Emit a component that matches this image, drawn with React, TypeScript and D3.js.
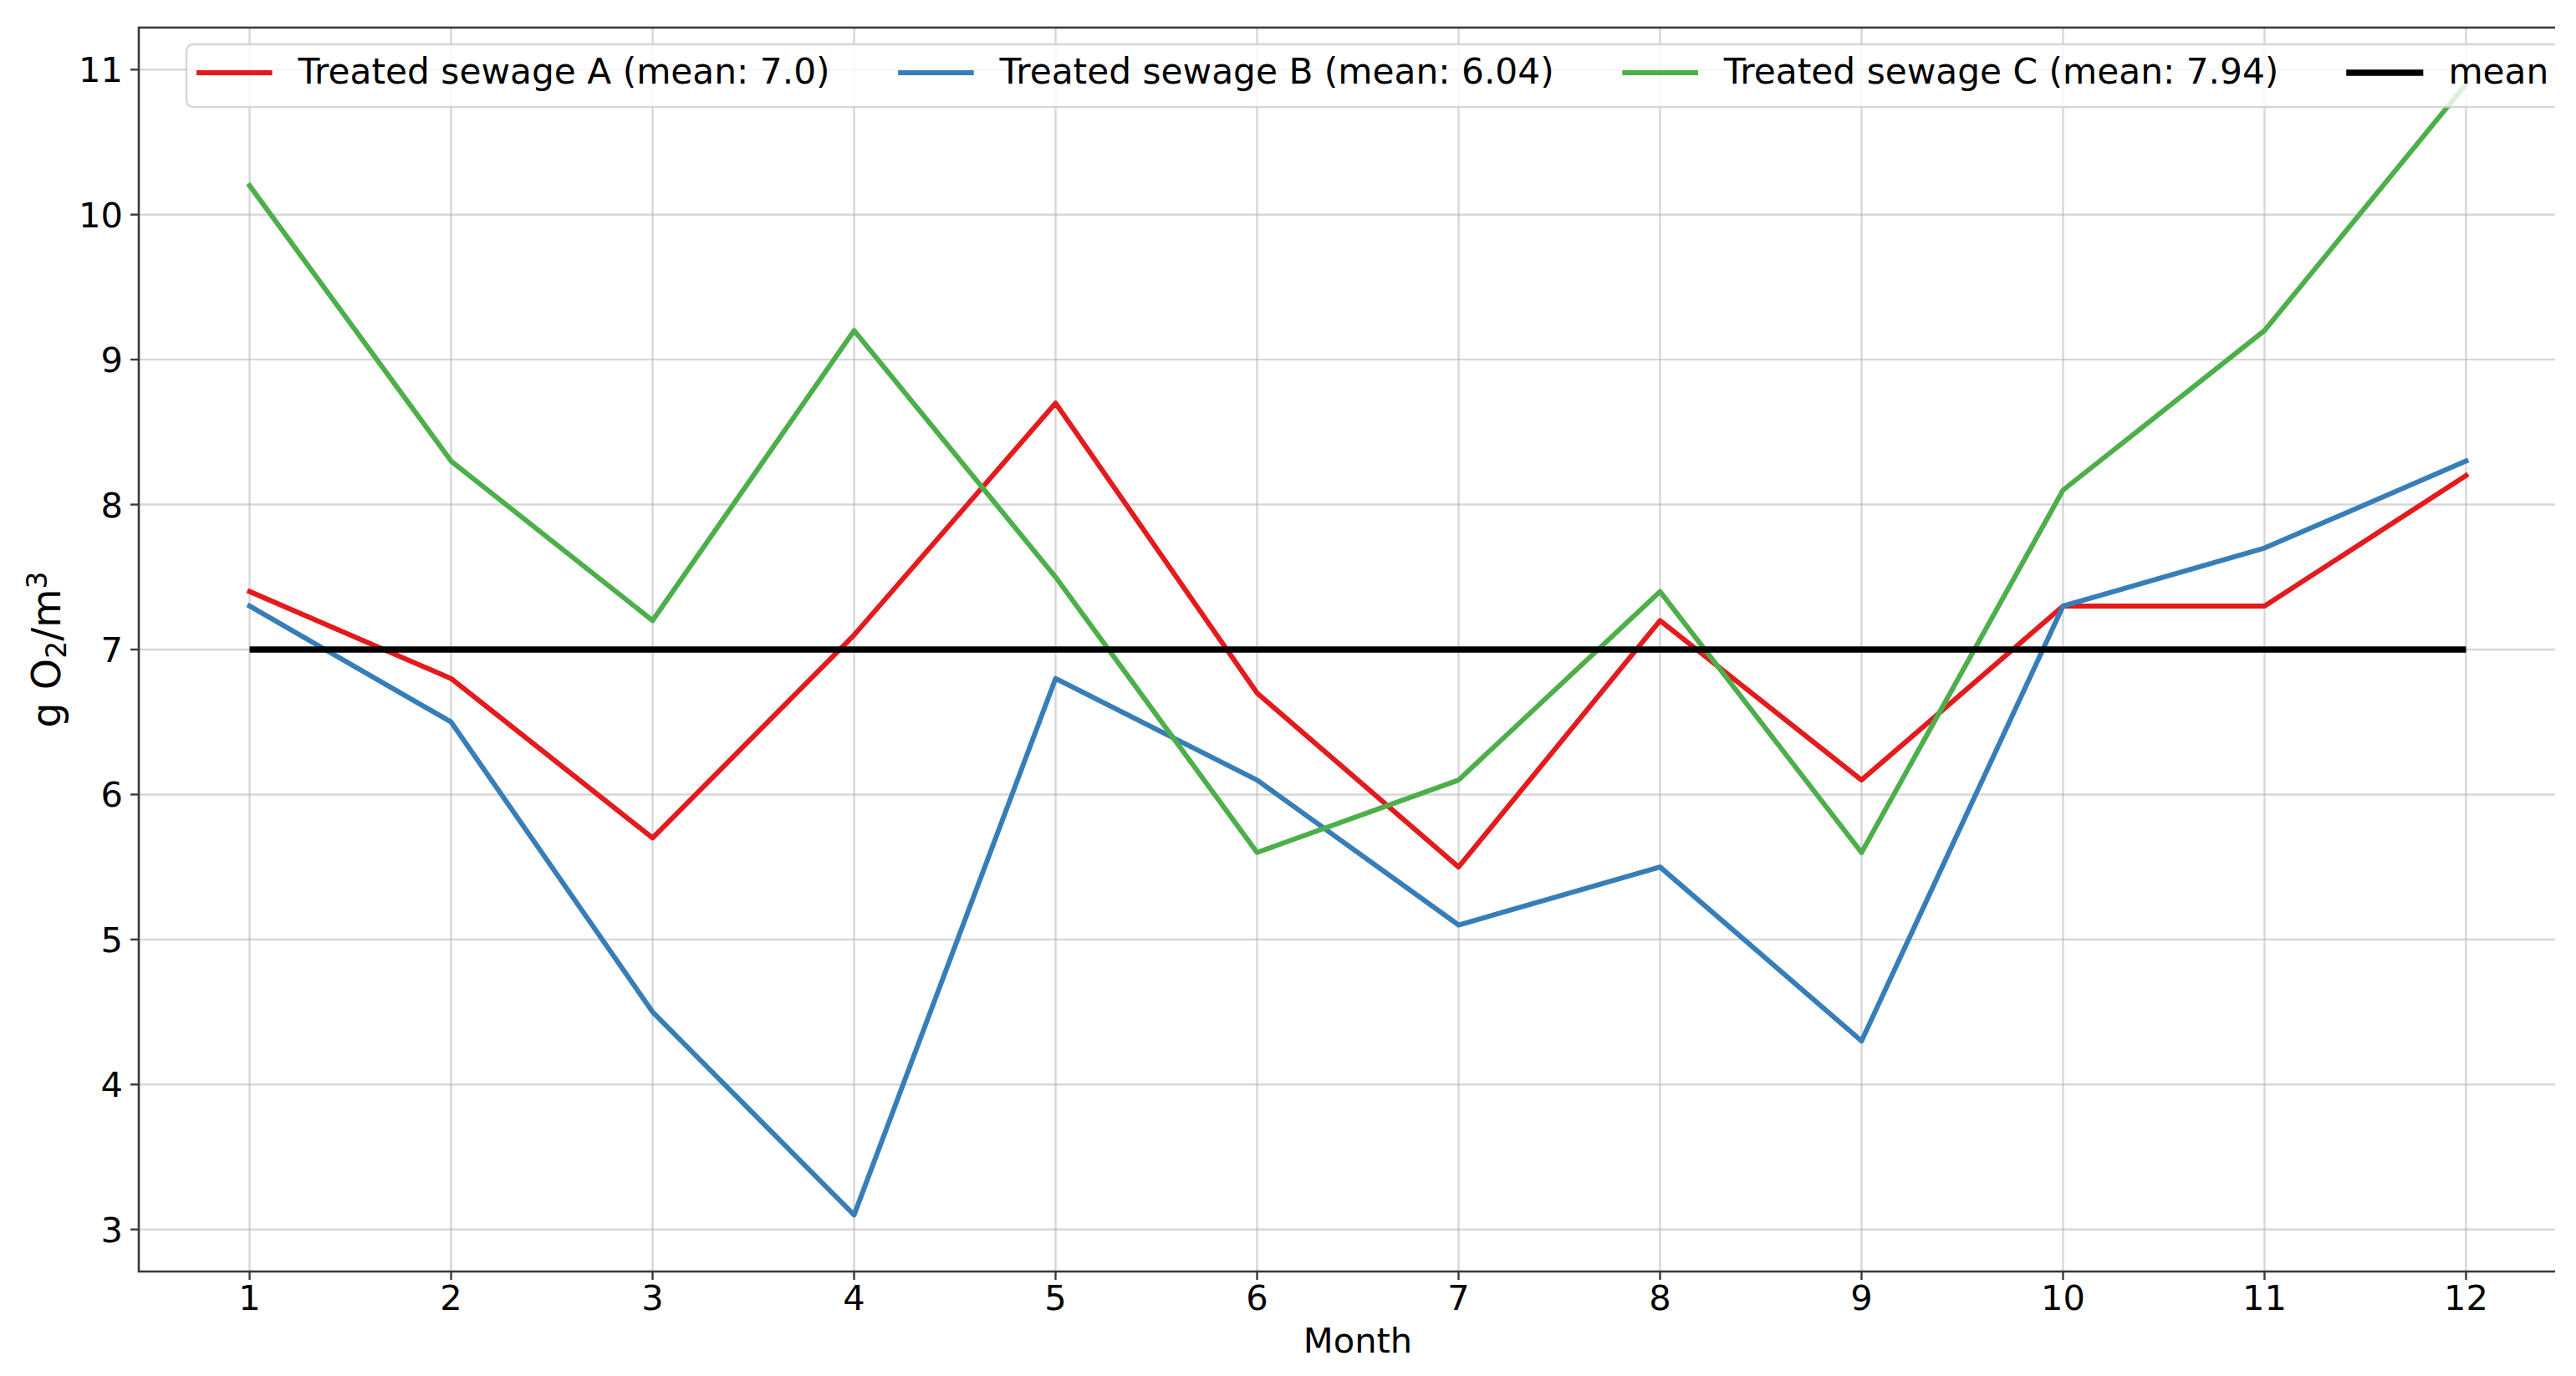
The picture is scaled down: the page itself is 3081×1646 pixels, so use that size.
import { useEffect, useRef } from "react"
import * as d3 from "d3"

// Monthly values (g O2/m3)
const months = [1, 2, 3, 4, 5, 6, 7, 8, 9, 10, 11, 12]
const sewageA = [7.4, 6.8, 5.7, 7.1, 8.7, 6.7, 5.5, 7.2, 6.1, 7.3, 7.3, 8.2]
const sewageB = [7.3, 6.5, 4.5, 3.1, 6.8, 6.1, 5.1, 5.5, 4.3, 7.3, 7.7, 8.3]
const sewageC = [10.2, 8.3, 7.2, 9.2, 7.5, 5.6, 6.1, 7.4, 5.6, 8.1, 9.2, 10.9]
const seriesNames = [
  "Treated sewage A (mean: 7.0)",
  "Treated sewage B (mean: 6.04)",
  "Treated sewage C (mean: 7.94)",
]
const seriesColors = ["#e41a1c", "#377eb8", "#4daf4a"]
const meanValue = 7.0
const meanLabel = "mean"
const yTicks = [3, 4, 5, 6, 7, 8, 9, 10, 11]
const xLabel = "Month"

const W = 3081
const H = 1646
const FONT = "DejaVu Sans"

export default function App() {
  const svgRef = useRef<SVGSVGElement>(null)

  useEffect(() => {
    if (!svgRef.current) return
    const root = d3.select(svgRef.current)
    root.selectAll("*").remove()

    const margin = { top: 33, left: 166, bottom: 1521, right: 3082 }
    const fs = 41.6
    const legFs = 42.3
    const tickLen = 10

    // clip everything at the right edge, like the cropped original
    root
      .append("defs")
      .append("clipPath")
      .attr("id", "crop")
      .append("rect")
      .attr("x", 0)
      .attr("y", 0)
      .attr("width", 3056)
      .attr("height", H)

    const svg = root.append("g").attr("clip-path", "url(#crop)")

    const series = [sewageA, sewageB, sewageC]
    const all = series.flat()
    const [ymin, ymax] = d3.extent(all) as [number, number]
    const ypad = (ymax - ymin) * 0.05
    const xpad = (months[months.length - 1] - months[0]) * 0.05

    const x = d3
      .scaleLinear()
      .domain([months[0] - xpad, months[months.length - 1] + xpad])
      .range([margin.left, margin.right])
    const y = d3
      .scaleLinear()
      .domain([ymin - ypad, ymax + ypad])
      .range([margin.bottom, margin.top])

    // grid
    svg
      .selectAll(".vgrid")
      .data(months)
      .enter()
      .append("line")
      .attr("x1", (d) => x(d))
      .attr("x2", (d) => x(d))
      .attr("y1", margin.top)
      .attr("y2", margin.bottom)
      .attr("stroke", "#b0b0b0")
      .attr("stroke-opacity", 0.5)
      .attr("stroke-width", 2.4)

    svg
      .selectAll(".hgrid")
      .data(yTicks)
      .enter()
      .append("line")
      .attr("x1", margin.left)
      .attr("x2", margin.right)
      .attr("y1", (d) => y(d))
      .attr("y2", (d) => y(d))
      .attr("stroke", "#b0b0b0")
      .attr("stroke-opacity", 0.5)
      .attr("stroke-width", 2.4)

    // series lines
    const line = d3
      .line<number>()
      .x((_, i) => x(months[i]))
      .y((d) => y(d))

    series.forEach((vals, i) => {
      svg
        .append("path")
        .datum(vals)
        .attr("fill", "none")
        .attr("stroke", seriesColors[i])
        .attr("stroke-width", 6)
        .attr("stroke-linejoin", "round")
        .attr("stroke-linecap", "square")
        .attr("d", line)
    })

    // mean line
    svg
      .append("line")
      .attr("x1", x(months[0]))
      .attr("x2", x(months[months.length - 1]))
      .attr("y1", y(meanValue))
      .attr("y2", y(meanValue))
      .attr("stroke", "#000")
      .attr("stroke-width", 7.5)

    // spines
    svg
      .append("rect")
      .attr("x", margin.left)
      .attr("y", margin.top)
      .attr("width", margin.right - margin.left)
      .attr("height", margin.bottom - margin.top)
      .attr("fill", "none")
      .attr("stroke", "#3a3a3a")
      .attr("stroke-width", 2.6)

    // x ticks
    const xt = svg.append("g")
    months.forEach((m) => {
      xt.append("line")
        .attr("x1", x(m))
        .attr("x2", x(m))
        .attr("y1", margin.bottom)
        .attr("y2", margin.bottom + tickLen)
        .attr("stroke", "#3a3a3a")
        .attr("stroke-width", 2.4)
      xt.append("text")
        .attr("x", x(m))
        .attr("y", margin.bottom + 46)
        .attr("text-anchor", "middle")
        .style("font-family", FONT)
        .style("font-size", `${fs}px`)
        .attr("fill", "#000")
        .text(m)
    })

    // y ticks
    const yt = svg.append("g")
    yTicks.forEach((t) => {
      yt.append("line")
        .attr("x1", margin.left - tickLen)
        .attr("x2", margin.left)
        .attr("y1", y(t))
        .attr("y2", y(t))
        .attr("stroke", "#3a3a3a")
        .attr("stroke-width", 2.4)
      yt.append("text")
        .attr("x", margin.left - 19)
        .attr("y", y(t) + 15)
        .attr("text-anchor", "end")
        .style("font-family", FONT)
        .style("font-size", `${fs}px`)
        .attr("fill", "#000")
        .text(t)
    })

    // axis labels
    svg
      .append("text")
      .attr("x", (margin.left + margin.right) / 2)
      .attr("y", 1618)
      .attr("text-anchor", "middle")
      .style("font-family", FONT)
      .style("font-size", `${fs}px`)
      .text(xLabel)

    const yl = svg
      .append("text")
      .attr("transform", `translate(72,${(margin.top + margin.bottom) / 2}) rotate(-90)`)
      .attr("text-anchor", "middle")
      .style("font-family", FONT)
      .style("font-size", "47.5px")
    yl.append("tspan").text("g O")
    yl.append("tspan").attr("dy", 7).style("font-size", "33px").text("2")
    yl.append("tspan").attr("dy", -7).text("/m")
    yl.append("tspan").attr("dy", -16).style("font-size", "33px").text("3")

    // legend
    const legend = svg.append("g")
    const frame = legend.append("rect")
    const items = [
      ...seriesNames.map((n, i) => ({ name: n, color: seriesColors[i], width: 6 })),
      { name: meanLabel, color: "#000", width: 7.5 },
    ]
    const handleLen = 2 * legFs
    const textPad = 0.8 * legFs
    const colSpace = 2 * legFs
    const legLeft = 223
    const legTop = 53
    let cx = legLeft + 15
    items.forEach((it) => {
      legend
        .append("line")
        .attr("x1", cx)
        .attr("x2", cx + handleLen)
        .attr("y1", 87)
        .attr("y2", 87)
        .attr("stroke", it.color)
        .attr("stroke-width", it.width)
        .attr("stroke-linecap", "square")
      const t = legend
        .append("text")
        .attr("x", cx + handleLen + textPad)
        .attr("y", 100)
        .style("font-family", FONT)
        .style("font-size", `${legFs}px`)
        .attr("fill", "#000")
        .text(it.name)
      const w = (t.node() as SVGTextElement).getComputedTextLength()
      cx = cx + handleLen + textPad + w + colSpace
    })
    const legRight = cx - colSpace + 16
    frame
      .attr("x", legLeft)
      .attr("y", legTop)
      .attr("width", legRight - legLeft)
      .attr("height", 75)
      .attr("rx", 8)
      .attr("fill", "#fff")
      .attr("fill-opacity", 0.8)
      .attr("stroke", "#cccccc")
      .attr("stroke-opacity", 0.8)
      .attr("stroke-width", 2.4)
  }, [])

  return (
    <svg
      ref={svgRef}
      width={W}
      height={H}
      style={{ position: "absolute", left: 0, top: 0, background: "#fff" }}
    ></svg>
  )
}
